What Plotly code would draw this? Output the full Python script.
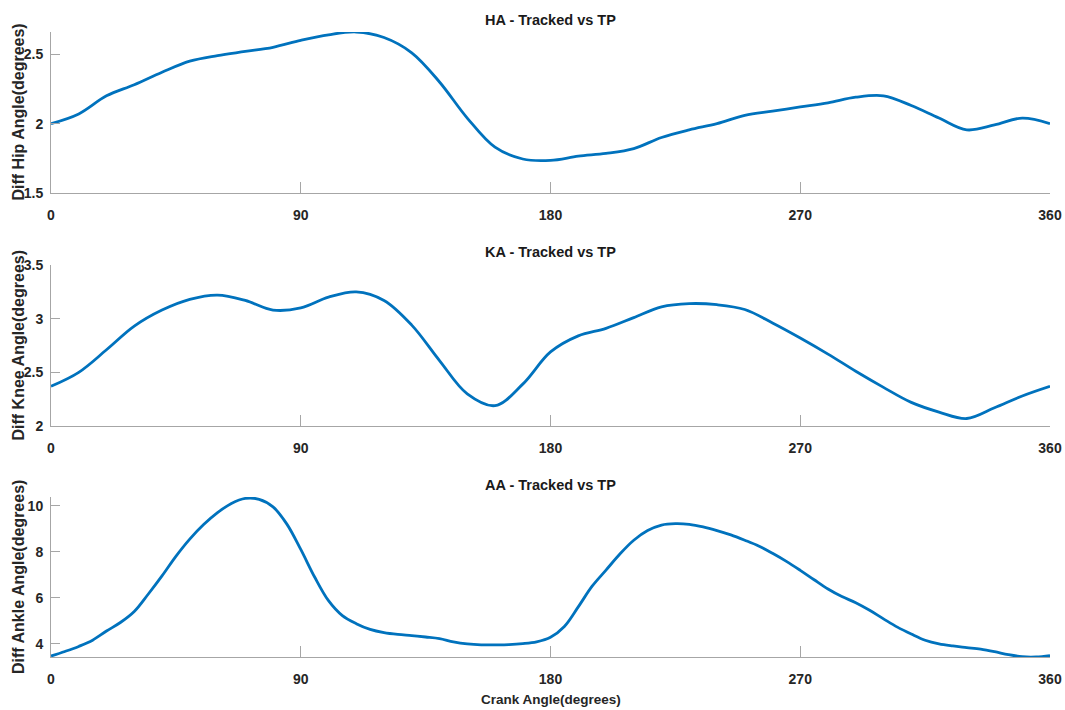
import plotly.graph_objects as go

# Crank angle (degrees) for hip and knee, sampled every 10 degrees
crank = list(range(0, 361, 10))
# Crank angle (degrees) for ankle, sampled every 5 degrees
crank_fine = list(range(0, 361, 5))

# Difference between tracked and TP joint angles (degrees)
hip_diff = [2.00, 2.07, 2.20, 2.28, 2.37, 2.45, 2.49, 2.52, 2.55, 2.60,
            2.64, 2.66, 2.62, 2.51, 2.30, 2.04, 1.83, 1.745, 1.735, 1.765,
            1.785, 1.82, 1.90, 1.955, 2.00, 2.06, 2.09, 2.12, 2.15, 2.19,
            2.20, 2.13, 2.04, 1.955, 1.99, 2.04, 2.00]
knee_diff = [2.37, 2.50, 2.71, 2.93, 3.08, 3.18, 3.22, 3.17, 3.08, 3.10,
             3.20, 3.25, 3.17, 2.94, 2.61, 2.30, 2.19, 2.39, 2.69, 2.84,
             2.91, 3.01, 3.11, 3.14, 3.13, 3.085, 2.96, 2.82, 2.67, 2.51,
             2.36, 2.22, 2.13, 2.07, 2.17, 2.28, 2.37]
ankle_diff = [3.46, 3.66, 3.88, 4.15, 4.55, 4.92, 5.40, 6.15, 6.95, 7.80,
              8.55, 9.18, 9.70, 10.10, 10.32, 10.28, 9.95, 9.20, 8.10, 6.90,
              5.87, 5.22, 4.87, 4.62, 4.48, 4.40, 4.35, 4.29, 4.22, 4.08,
              3.99, 3.95, 3.95, 3.96, 4.00, 4.08, 4.28, 4.75, 5.60, 6.50,
              7.20, 7.90, 8.50, 8.92, 9.16, 9.22, 9.19, 9.08, 8.92, 8.73,
              8.50, 8.25, 7.93, 7.58, 7.19, 6.78, 6.38, 6.05, 5.78, 5.45,
              5.08, 4.72, 4.42, 4.15, 3.99, 3.90, 3.83, 3.76, 3.65, 3.52,
              3.43, 3.42, 3.48]

x_ticks = [0, 90, 180, 270, 360]
panels = [
    dict(x=crank, y=hip_diff, title="HA - Tracked vs TP",
         ylabel="Diff Hip Angle(degrees)", yrange=[1.5, 2.66],
         yticks=[1.5, 2, 2.5], yticktext=["1.5", "2", "2.5"]),
    dict(x=crank, y=knee_diff, title="KA - Tracked vs TP",
         ylabel="Diff Knee Angle(degrees)", yrange=[2, 3.5],
         yticks=[2, 2.5, 3, 3.5], yticktext=["2", "2.5", "3", "3.5"]),
    dict(x=crank_fine, y=ankle_diff, title="AA - Tracked vs TP",
         ylabel="Diff Ankle Angle(degrees)", yrange=[3.42, 10.38],
         yticks=[4, 6, 8, 10], yticktext=["4", "6", "8", "10"]),
]

W, H = 1065, 710
M_L, M_R, M_T, M_B = 51, 15, 32, 53
plot_h = H - M_T - M_B
# pixel extents (top, bottom) of each panel
px_extent = [(32, 193), (265, 426), (497, 657)]
title_px = [20, 252, 485]

FONT = "Liberation Sans, Arial, sans-serif"
AXIS_GREY = "#a6a6a6"
TEXT = "#262626"
LINE_BLUE = "#0072BD"

fig = go.Figure()
layout = dict(
    width=W, height=H,
    margin=dict(l=M_L, r=M_R, t=M_T, b=M_B, autoexpand=False),
    paper_bgcolor="white", plot_bgcolor="white",
    showlegend=False,
)
annotations = []


def to_paper(py):
    return (H - M_B - py) / plot_h


for i, p in enumerate(panels):
    n = "" if i == 0 else str(i + 1)
    top, bot = px_extent[i]
    fig.add_trace(go.Scatter(
        x=p["x"], y=p["y"], mode="lines",
        line=dict(color=LINE_BLUE, width=2.8, shape="spline", smoothing=1.0),
        xaxis="x" + n, yaxis="y" + n, hoverinfo="skip",
    ))
    layout["xaxis" + n] = dict(
        domain=[0, 1], anchor="y" + n, range=[0, 360],
        tickvals=x_ticks, ticktext=[str(t) for t in x_ticks],
        ticks="inside", ticklen=11, tickwidth=1, tickcolor=AXIS_GREY,
        showline=True, linecolor=AXIS_GREY, linewidth=1,
        showgrid=False, zeroline=False, automargin=False,
        tickfont=dict(family=FONT, size=14, color=TEXT, weight="bold"),
        ticklabelstandoff=9,
    )
    layout["yaxis" + n] = dict(
        domain=[to_paper(bot), to_paper(top)], anchor="x" + n,
        range=p["yrange"], tickvals=p["yticks"], ticktext=p["yticktext"],
        ticks="inside", ticklen=9, tickwidth=1, tickcolor=AXIS_GREY,
        showline=True, linecolor=AXIS_GREY, linewidth=1,
        showgrid=False, zeroline=False, automargin=False,
        tickfont=dict(family=FONT, size=14, color=TEXT, weight="bold"),
        ticklabelstandoff=4,
    )
    annotations.append(dict(
        text=p["title"], xref="paper", yref="paper",
        x=0.5, y=to_paper(title_px[i]), xanchor="center", yanchor="middle",
        showarrow=False,
        font=dict(family=FONT, size=14.5, color="#1a1a1a", weight="bold"),
    ))
    annotations.append(dict(
        text=p["ylabel"], xref="paper", yref="paper",
        x=(18 - M_L) / (W - M_L - M_R), y=to_paper((top + bot) / 2),
        xanchor="center", yanchor="middle", textangle=-90, showarrow=False,
        font=dict(family=FONT, size=16, color=TEXT, weight="bold"),
    ))

annotations.append(dict(
    text="Crank Angle(degrees)", xref="paper", yref="paper",
    x=0.5, y=to_paper(699), xanchor="center", yanchor="middle",
    showarrow=False,
    font=dict(family=FONT, size=13.5, color=TEXT, weight="bold"),
))
layout["annotations"] = annotations
fig.update_layout(**layout)
fig.write_html("out.html")
